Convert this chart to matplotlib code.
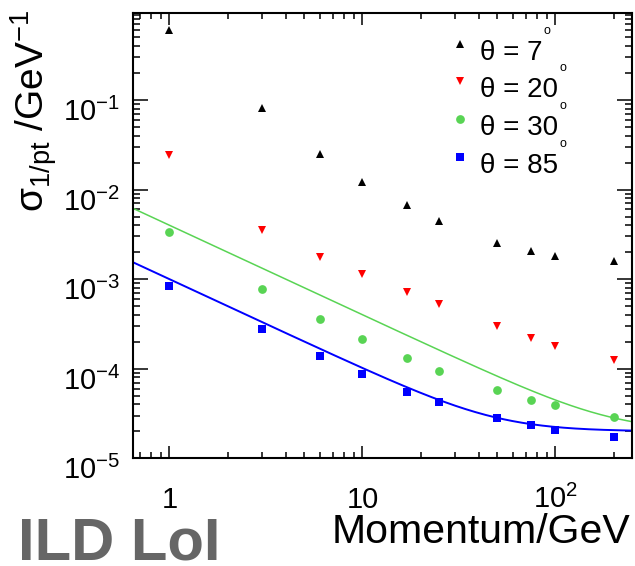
import numpy as np
import matplotlib
matplotlib.use('Agg')
import matplotlib.pyplot as plt
from matplotlib.ticker import LogLocator, NullFormatter
from matplotlib.transforms import offset_copy, blended_transform_factory

plt.rcParams['font.family'] = ['Liberation Sans', 'DejaVu Sans']
plt.rcParams['mathtext.fontset'] = 'custom'
plt.rcParams['mathtext.rm'] = 'Liberation Sans'
plt.rcParams['mathtext.it'] = 'Liberation Sans:italic'
plt.rcParams['mathtext.bf'] = 'Liberation Sans:bold'

# momentum points (GeV) and 1/pt resolution for each polar angle
momentum = [1, 3, 6, 10, 17, 25, 50, 75, 100, 200]
res_7 = [6.1e-1, 8.1e-2, 2.47e-2, 1.23e-2, 6.7e-3, 4.5e-3, 2.54e-3, 2.05e-3, 1.81e-3, 1.58e-3]
res_20 = [2.41e-2, 3.56e-3, 1.78e-3, 1.13e-3, 7.2e-4, 5.3e-4, 3.0e-4, 2.19e-4, 1.80e-4, 1.24e-4]
res_30 = [3.32e-3, 7.7e-4, 3.58e-4, 2.17e-4, 1.31e-4, 9.5e-5, 5.8e-5, 4.5e-5, 3.97e-5, 2.89e-5]
res_85 = [8.3e-4, 2.79e-4, 1.39e-4, 8.7e-5, 5.5e-5, 4.2e-5, 2.81e-5, 2.37e-5, 2.08e-5, 1.74e-5]

# sigma = a (+) b/p parametrisation
par_a = 2e-5
par_b30 = 4e-3
par_b85 = 1e-3

angles = ['7', '20', '30', '85']
xtick_vals = [1, 10, 100]
xtick_text = ['1', '10', '$10^{2}$']
ytick_vals = [1e-5, 1e-4, 1e-3, 1e-2, 1e-1]
ytick_text = ['$10^{-5}$', '$10^{-4}$', '$10^{-3}$', '$10^{-2}$', '$10^{-1}$']
green = '#59d454'

W, H = 635, 566
fig = plt.figure(figsize=(W / 100, H / 100), dpi=100)
ax = fig.add_axes([133.3 / W, 1 - 458.3 / H, 499.0 / W, 445.0 / H])
ax.set_xscale('log')
ax.set_yscale('log')
ax.set_xlim(0.65, 250)
ax.set_ylim(1e-5, 0.93)

p = np.logspace(np.log10(0.65), np.log10(250), 300)
ax.plot(p, np.sqrt(par_a**2 + (par_b30 / p)**2), color=green, lw=1.1, zorder=2)
ax.plot(p, np.sqrt(par_a**2 + (par_b85 / p)**2), color='blue', lw=1.4, zorder=2)

styles = [('^', 'black', 5.8), ('v', 'red', 5.8), ('o', green, 6.3), ('s', 'blue', 6.0)]
for vals, (m, c, s) in zip([res_7, res_20, res_30, res_85], styles):
    ax.plot(momentum, vals, ls='none', marker=m, color=c, ms=s, mew=0, zorder=3)

for sp in ax.spines.values():
    sp.set_linewidth(1.5)

ax.set_xticks(xtick_vals)
ax.set_yticks(ytick_vals)
ax.xaxis.set_minor_locator(LogLocator(base=10, subs=np.arange(2, 10), numticks=30))
ax.yaxis.set_minor_locator(LogLocator(base=10, subs=np.arange(2, 10), numticks=30))
ax.xaxis.set_minor_formatter(NullFormatter())
ax.yaxis.set_minor_formatter(NullFormatter())

ax.tick_params(which='both', direction='in', top=True, right=True, width=1.1,
               labelbottom=False, labelleft=False)
ax.tick_params(axis='x', which='major', length=8.6)
ax.tick_params(axis='x', which='minor', length=4.3)
ax.tick_params(axis='y', which='major', length=10.8)
ax.tick_params(axis='y', which='minor', length=5.2)

# tick labels placed on baselines below / left of the frame
xtr = offset_copy(blended_transform_factory(ax.transData, ax.transAxes), fig, x=0, y=-50, units='dots')
for v, s in zip(xtick_vals, xtick_text):
    ax.text(v, 0, s, transform=xtr, fontsize=21, ha='center', va='baseline')
ytr = offset_copy(blended_transform_factory(ax.transAxes, ax.transData), fig, x=-13, y=-21, units='dots')
for v, s in zip(ytick_vals, ytick_text):
    ax.text(0, v, s, transform=ytr, fontsize=21, ha='right', va='baseline')

ax.set_xlabel('Momentum/GeV', fontsize=29.5, ha='right', va='baseline')
ax.xaxis.set_label_coords((630 - 133.3) / 499.0, (458.3 - 543) / 445.0)
ax.set_ylabel(r'σ$_{\mathrm{1/pt}}$ /GeV$^{\mathrm{-1}}$', fontsize=28,
              rotation=90, rotation_mode='default', ha='left', va='top')
ax.yaxis.set_label_coords((8 - 133.3) / 499.0, (458.3 - 10) / 445.0)

# legend drawn by hand: marker, label, raised degree sign
leg_texts = []
rows = [44, 81, 119, 157]
for (m, c, s), ang, ym in zip(styles, angles, rows):
    ax.plot([460 / W], [1 - ym / H], ls='none', marker=m, color=c, ms=s, mew=0,
            transform=fig.transFigure, clip_on=False)
    t = fig.text(480 / W, 1 - (ym + 16) / H, 'θ = ' + ang, fontsize=20, va='baseline')
    leg_texts.append((t, ym))

fig.text(18 / W, 1 - 559 / H, 'ILD LoI', fontsize=43, fontweight='bold',
         color='#666666', va='baseline')

fig.canvas.draw()
r = fig.canvas.get_renderer()
for t, ym in leg_texts:
    bb = t.get_window_extent(r)
    cy = ym - 13.5
    fig.text((bb.x1 + 4.5) / W, 1 - (cy + 3.2) / H, 'o', fontsize=9,
             ha='center', va='baseline')

fig.savefig('out.png', dpi=100, facecolor='white')
